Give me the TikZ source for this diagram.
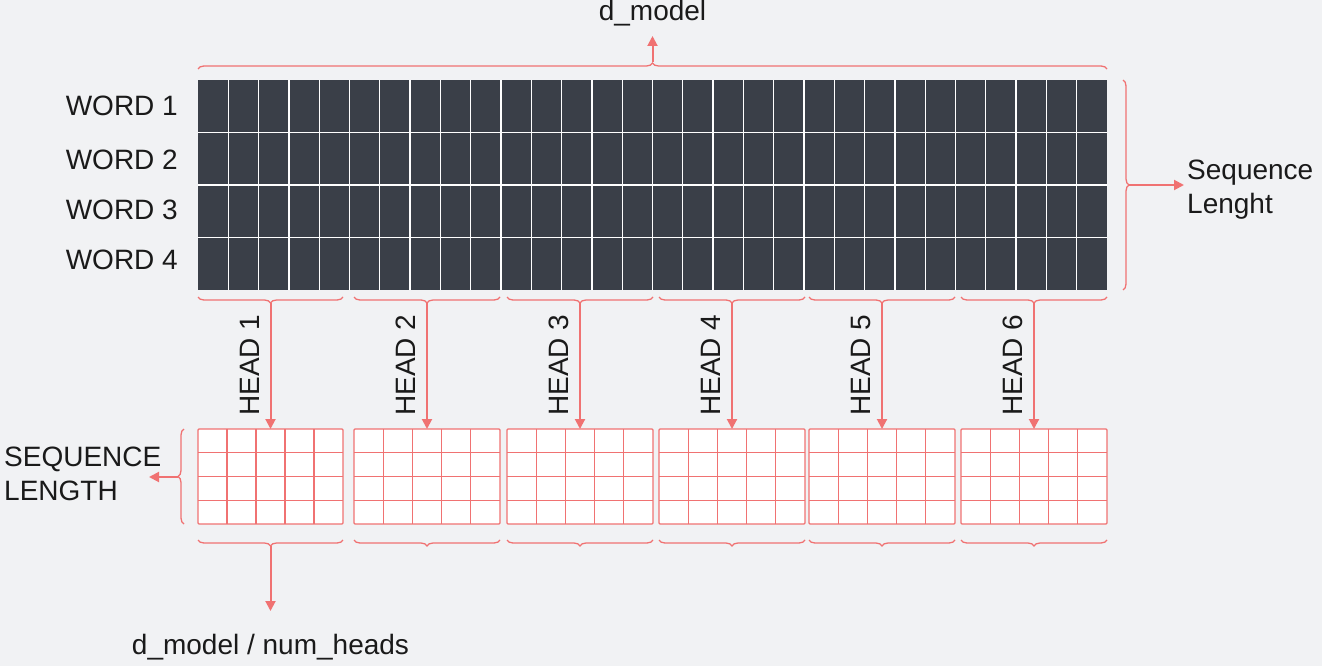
\documentclass[tikz,border=0pt]{standalone}
\usepackage{fontspec}
\setmainfont{Liberation Sans}
\usetikzlibrary{arrows.meta, decorations.pathreplacing, positioning}

\begin{document}
\begin{tikzpicture}[x=1pt, y=-1pt,
    every node/.style={font=\fontsize{28}{34}\selectfont, text=textColour, inner sep=0pt},
    brace/.style={draw=lineColour, line width=1.3pt, decorate, decoration={brace, amplitude=6pt}},
    link/.style={draw=lineColour, line width=2pt, -{Triangle[length=10pt, width=10pt]}},
    cellline/.style={draw=white, line width=1.3pt},
    gridline/.style={draw=lineColour, line width=1.3pt}]
    % Define colours
    \definecolor{bgColour}{HTML}{F1F2F4}
    \definecolor{cellColour}{HTML}{3A3F48}
    \definecolor{lineColour}{HTML}{F07272}
    \definecolor{textColour}{HTML}{1A1A1A}

    % Background
    \useasboundingbox (0,0) rectangle (1322,666);
    \fill[bgColour] (0,0) rectangle (1322,666);

    % Draw embedding matrix
    \fill[cellColour] (198,80) rectangle (1107,290);
    \foreach \c in {1,...,29}
        \draw[cellline] ({198+\c*30.3},80) -- ({198+\c*30.3},290);
    \foreach \r in {1,2,3}
        \draw[cellline] (198,{80+\r*52.5}) -- (1107,{80+\r*52.5});

    % Label rows
    \foreach \r/\y in {1/106,2/160,3/210,4/260}
        \node[anchor=east] (word\r) at (178,\y) {WORD \r};

    % Top brace with d_model
    \draw[brace] (198,69) -- (1107,69);
    \coordinate (topTip) at (652.5,62);
    \coordinate (topEnd) at (652.5,36);
    \draw[link] (topTip) -- (topEnd);
    \node (dModel) at (652.5,13) {d\_model};

    % Right brace with sequence length
    \draw[brace] (1123,80) -- (1123,290);
    \coordinate (rightTip) at (1129,185);
    \coordinate (rightEnd) at (1184,185);
    \node[anchor=west, align=left] (seqLen) at (1187,190) {Sequence\\Lenght};
    \draw[link] (rightTip) -- (rightEnd);

    % Split into heads
    \foreach \i/\l/\r in {1/198/343, 2/354/500, 3/507/653, 4/659/805, 5/809/955, 6/961/1107} {
        \pgfmathsetmacro{\m}{(\l+\r)/2}
        \pgfmathsetmacro{\w}{(\r-\l)/5}
        % brace under matrix
        \draw[brace] (\r,297) -- (\l,297);
        \coordinate (tip\i) at (\m,303);
        % head grid
        \draw[gridline, fill=white, rounded corners=1pt] (\l,429) rectangle (\r,524);
        \foreach \k in {1,...,4}
            \draw[gridline] ({\l+\k*\w},429) -- ({\l+\k*\w},524);
        \foreach \k in {1,2,3}
            \draw[gridline] (\l,{429+\k*23.75}) -- (\r,{429+\k*23.75});
        \coordinate (head\i) at (\m,429);
        \draw[link] (tip\i) -- (head\i);
        \node[rotate=90] (label\i) at ({\m-21},365) {HEAD \i};
        % brace under head grid
        \draw[brace] (\r,540) -- (\l,540);
        \coordinate (bottomTip\i) at (\m,546);
    }

    % Left brace with sequence length
    \draw[brace] (184,524) -- (184,429);
    \coordinate (leftTip) at (178,477);
    \node[anchor=west, align=left] (seqLength) at (4,474) {SEQUENCE\\LENGTH};
    \coordinate (leftEnd) at (149,477);
    \draw[link] (leftTip) -- (leftEnd);

    % Head width
    \coordinate (bottomEnd) at (270.5,611);
    \draw[link] (bottomTip1) -- (bottomEnd);
    \node (headWidth) at (270.5,647) {d\_model / num\_heads};

\end{tikzpicture}
\end{document}
